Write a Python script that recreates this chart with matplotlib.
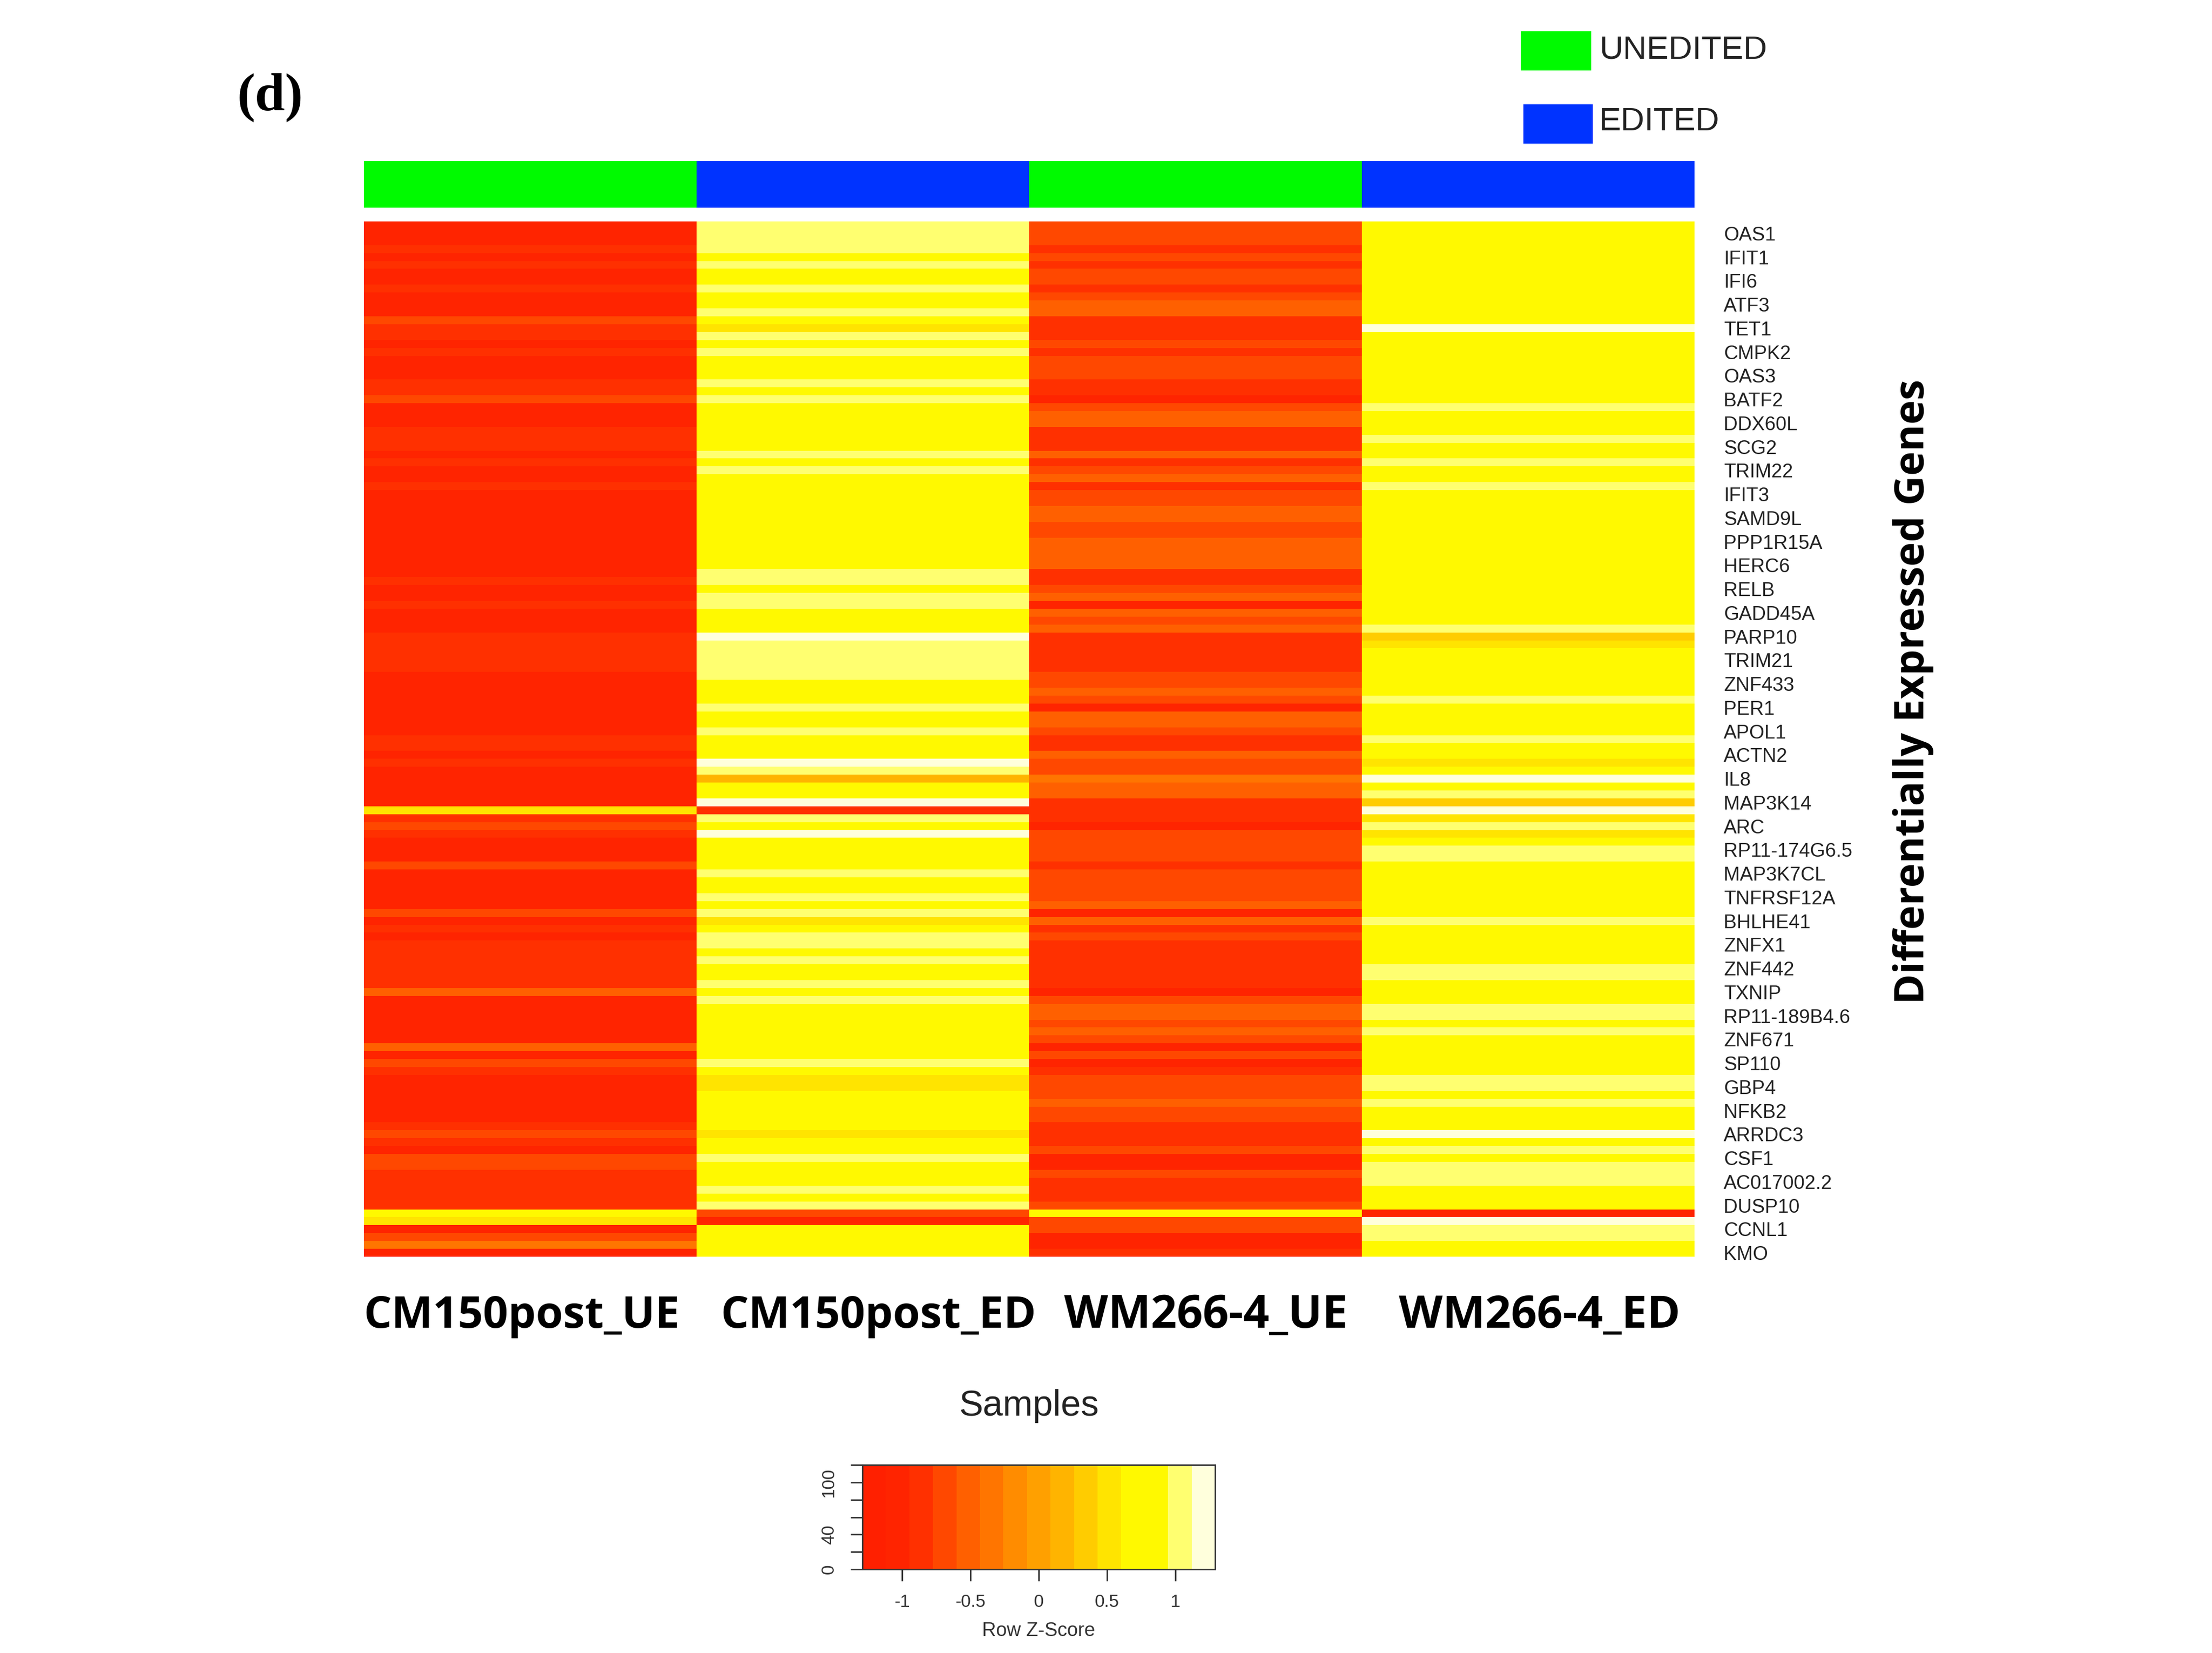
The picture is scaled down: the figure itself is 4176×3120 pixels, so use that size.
import numpy as np
import matplotlib
matplotlib.use('Agg')
import matplotlib.pyplot as plt
from matplotlib.colors import ListedColormap, BoundaryNorm
from matplotlib.patches import Rectangle

# Constants
FIG_W = 4176
FIG_H = 3120
DPI = 300

# Z-score shorthand, one name per colour level seen in the heatmap
a, b, c, d, e = -1.03, -0.86, -0.69, -0.52, -0.34
A, K, g = 0.17, 0.34, 0.52
y, p, w = 0.78, 1.03, 1.2

genes = ['OAS1', 'IFIT1', 'IFI6', 'ATF3', 'TET1', 'CMPK2', 'OAS3', 'BATF2', 'DDX60L', 'SCG2', 'TRIM22',
         'IFIT3', 'SAMD9L', 'PPP1R15A', 'HERC6', 'RELB', 'GADD45A', 'PARP10', 'TRIM21', 'ZNF433', 'PER1',
         'APOL1', 'ACTN2', 'IL8', 'MAP3K14', 'ARC', 'RP11-174G6.5', 'MAP3K7CL', 'TNFRSF12A', 'BHLHE41',
         'ZNFX1', 'ZNF442', 'TXNIP', 'RP11-189B4.6', 'ZNF671', 'SP110', 'GBP4', 'NFKB2', 'ARRDC3', 'CSF1',
         'AC017002.2', 'DUSP10', 'CCNL1', 'KMO']
samples = ['CM150post_UE', 'CM150post_ED', 'WM266-4_UE', 'WM266-4_ED']
sample_groups = [0, 1, 0, 1]
group_names = ['UNEDITED', 'EDITED']
group_colors = ['#00fa00', '#0033ff']

# Row values per sample, top row first
cm150_ue = [a, a, a, b, a, b, a, a, b, a,
            a, a, c, b, b, a, b, a, a, a,
            b, b, c, a, a, a, b, b, b, a,
            b, a, a, b, a, a, a, a, a, a,
            a, a, a, a, a, b, a, a, b, a,
            a, a, b, b, b, b, b, a, a, a,
            a, a, a, a, a, b, b, a, b, a,
            a, a, a, a, g, b, c, b, a, a,
            a, c, a, a, a, a, a, c, a, b,
            a, b, b, b, b, b, b, d, a, a,
            a, a, a, a, d, a, c, b, a, a,
            a, a, a, a, b, c, b, a, c, c,
            b, b, b, b, b, y, g, a, c, e,
            a]
cm150_ed = [p, p, p, p, y, p, y, y, p, y,
            y, p, y, g, p, y, p, y, y, y,
            p, y, p, y, y, y, y, y, y, p,
            y, p, y, y, y, y, y, y, y, y,
            y, y, y, y, p, p, y, p, p, y,
            y, y, w, p, p, p, p, p, y, y,
            y, p, y, y, p, y, y, y, w, p,
            A, y, y, w, b, p, y, w, y, y,
            y, y, p, y, y, p, y, p, g, y,
            p, p, y, p, y, y, p, y, p, y,
            y, y, y, y, y, y, p, y, g, g,
            y, y, y, y, y, g, y, y, p, y,
            y, y, p, y, p, c, a, y, y, y,
            y]
wm266_ue = [c, c, c, b, c, b, c, c, b, c,
            d, d, b, b, b, c, b, c, c, c,
            b, b, a, c, d, d, b, b, b, d,
            b, c, d, b, c, c, d, d, c, c,
            d, d, d, d, b, b, c, d, a, d,
            c, d, b, b, b, b, b, c, c, d,
            c, a, d, d, c, b, b, d, c, c,
            e, d, d, b, b, b, a, c, c, c,
            c, b, c, c, c, c, d, a, d, b,
            c, b, b, b, b, b, b, a, c, d,
            d, c, d, c, a, c, a, b, c, c,
            c, d, c, c, b, b, b, c, a, a,
            c, b, b, b, c, y, c, c, a, a,
            b]
wm266_ed = [y, y, y, y, y, y, y, y, y, y,
            y, y, y, w, y, y, y, y, y, y,
            y, y, y, p, y, y, y, p, y, y,
            p, y, y, p, y, y, y, y, y, y,
            y, y, y, y, y, y, y, y, y, y,
            y, p, K, g, y, y, y, y, y, y,
            p, y, y, y, y, p, y, y, g, y,
            w, y, p, K, w, g, p, g, y, p,
            p, y, y, y, y, y, y, y, p, y,
            y, y, y, y, p, p, y, y, y, p,
            p, y, p, y, y, y, y, y, p, p,
            y, p, y, y, y, w, y, p, y, p,
            p, p, y, y, y, a, w, p, p, y,
            y]

# Colour key
key_colors = ['#ff2000', '#ff2400', '#ff3000', '#ff4800', '#ff6000', '#ff7500', '#ff8c00', '#ffa000',
              '#ffb400', '#ffcc00', '#ffe400', '#fff900', '#fff900', '#ffff70', '#ffffdc']
key_edges = np.linspace(-1.29, 1.29, 16)
key_xticks = [-1, -0.5, 0, 0.5, 1]
key_xticklabels = ['-1', '-0.5', '0', '0.5', '1']
key_yticks = [0, 20, 40, 60, 80, 100, 120]
key_yticklabels = ['0', '', '40', '', '', '100', '']

plt.rcParams['font.family'] = ['Liberation Sans', 'DejaVu Sans']


def add_axes_px(fig, left, top, right, bottom):
    return fig.add_axes([left / FIG_W, 1 - bottom / FIG_H, (right - left) / FIG_W, (bottom - top) / FIG_H])


def text_px(fig, x, y, s, **kwargs):
    kwargs.setdefault('va', 'center')
    return fig.text(x / FIG_W, 1 - y / FIG_H, s, **kwargs)


fig = plt.figure(figsize=(FIG_W / DPI, FIG_H / DPI), dpi=DPI, facecolor='white')
cmap = ListedColormap(key_colors)
norm = BoundaryNorm(key_edges, cmap.N)

# Sample annotation bar
ax_top = add_axes_px(fig, 687, 304, 3199, 392)
ax_top.pcolormesh(np.arange(5), [0, 1], [sample_groups], cmap=ListedColormap(group_colors), vmin=0, vmax=1)
ax_top.axis('off')

# Heatmap
matrix = np.array([cm150_ue, cm150_ed, wm266_ue, wm266_ed]).T
n_rows = matrix.shape[0]
ax = add_axes_px(fig, 687, 418, 3199, 2372)
ax.pcolormesh(np.arange(5), np.arange(n_rows + 1), matrix, cmap=cmap, norm=norm)
ax.set_ylim(n_rows, 0)
ax.set_xticks([])
ax.yaxis.tick_right()
ax.set_yticks(np.arange(len(genes)) * 3 + 1.5)
ax.set_yticklabels(genes, fontsize=8.85, color='#222222')
ax.tick_params(axis='y', length=0, pad=13.3)
for spine in ax.spines.values():
    spine.set_visible(False)

# Text around the heatmap
text_px(fig, 447, 184, '(d)', family='Liberation Serif', weight='bold', fontsize=24.5)
for x_px, label, size in zip([686, 1360, 2009, 2641], samples, [19.9, 19.9, 20.6, 20.5]):
    text_px(fig, x_px, 2484, label, family='Open Sans', weight='bold', fontsize=size)
text_px(fig, 3612, 1305, 'Differentially Expressed Genes', family='Open Sans', weight='bold', fontsize=18.6,
        rotation=90, ha='center')
text_px(fig, 1943, 2654, 'Samples', fontsize=16.3, ha='center', color='#222222')

# Group legend
for (left, top, right, bottom), name, color, y_px in zip([(2871, 59, 3004, 133), (2876, 197, 3007, 271)],
                                                         group_names, group_colors, [95, 231]):
    fig.add_artist(Rectangle((left / FIG_W, 1 - bottom / FIG_H), (right - left) / FIG_W, (bottom - top) / FIG_H,
                             transform=fig.transFigure, facecolor=color, edgecolor='none'))
    text_px(fig, 3019, y_px, name, fontsize=14.9, color='#222222')

# Colour key
ax_key = add_axes_px(fig, 1628, 2765, 2294, 2962)
ax_key.pcolormesh(key_edges, [0, 120], [(key_edges[:-1] + key_edges[1:]) / 2], cmap=cmap, norm=norm)
ax_key.set_xlim(-1.29, 1.29)
ax_key.set_ylim(0, 120)
ax_key.set_xticks(key_xticks)
ax_key.set_xticklabels(key_xticklabels, fontsize=8, color='#333333')
ax_key.set_yticks(key_yticks)
ax_key.set_yticklabels(key_yticklabels, fontsize=8, rotation=90, va='center', color='#333333')
ax_key.tick_params(length=5.3, width=0.7, color='#333333', pad=6)
ax_key.set_xlabel('Row Z-Score', fontsize=8.8, color='#333333', labelpad=5)
for spine in ax_key.spines.values():
    spine.set_linewidth(0.7)
    spine.set_color('#333333')

fig.savefig('out.png', dpi=DPI)
